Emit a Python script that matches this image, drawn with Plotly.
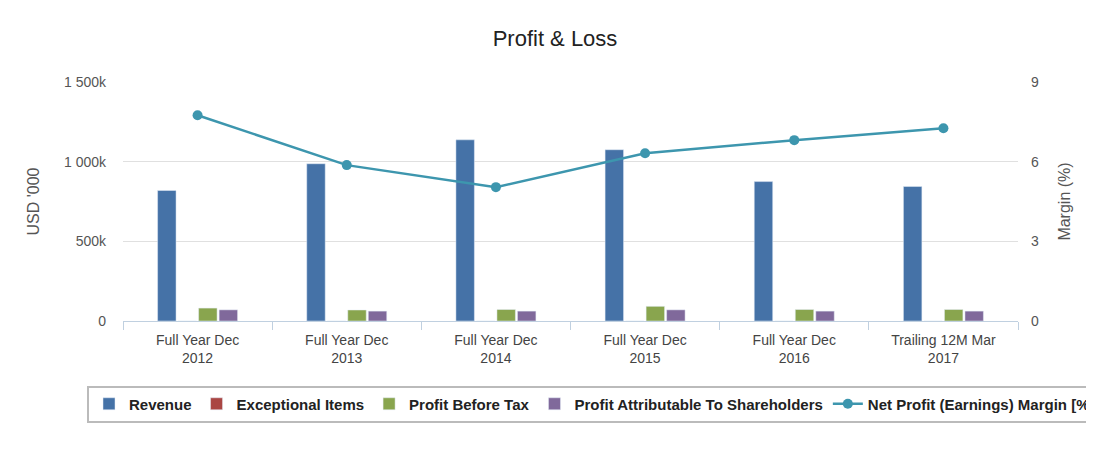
import plotly.graph_objects as go

periods = ["Full Year Dec<br>2012", "Full Year Dec<br>2013", "Full Year Dec<br>2014",
           "Full Year Dec<br>2015", "Full Year Dec<br>2016", "Trailing 12M Mar<br>2017"]
revenue = [819, 987, 1137, 1075, 875, 844]
exceptional = [0, 0, 0, 0, 0, 0]
profit_before_tax = [81, 69, 72, 92, 72, 72]
profit_attrib = [70, 62, 62, 70, 62, 62]
net_margin = [7.75, 5.87, 5.04, 6.32, 6.81, 7.26]

left_ticks = [0, 500, 1000, 1500]
left_labels = ["0", "500k", "1 000k", "1 500k"]

fig = go.Figure()
fig.add_bar(x=periods, y=revenue, name="Revenue", marker_color="#4572A7")
fig.add_bar(x=periods, y=exceptional, name="Exceptional Items", marker_color="#AA4643")
fig.add_bar(x=periods, y=profit_before_tax, name="Profit Before Tax", marker_color="#89A54E")
fig.add_bar(x=periods, y=profit_attrib, name="Profit Attributable To Shareholders", marker_color="#80699B")
fig.add_scatter(x=periods, y=net_margin, name="Net Profit (Earnings) Margin [%]", yaxis="y2",
                mode="lines+markers", line=dict(color="#3D96AE", width=2.5),
                marker=dict(size=10, color="#3D96AE"))

fig.update_layout(
    width=1094, height=450,
    paper_bgcolor="white", plot_bgcolor="white",
    font=dict(family="Liberation Sans, Arial", size=14, color="#333"),
    title=dict(text="Profit & Loss", x=0.5, y=0.95, xanchor="center", font=dict(size=22, color="#222")),
    margin=dict(l=115, r=84, t=74, b=137),
    barmode="group", bargap=0.45, bargroupgap=0.1,
    xaxis=dict(showline=True, linecolor="#C0D0E0", ticks="outside", tickcolor="#C0D0E0",
               tickson="boundaries", ticklen=8, ticklabelstandoff=6,
               tickfont=dict(size=14, color="#444")),
    yaxis=dict(range=[0, 1500], tickvals=left_ticks, ticktext=left_labels, gridcolor="#E0E0E0",
               title=dict(text="USD '000", font=dict(size=16, color="#555"), standoff=20),
               ticklabelstandoff=16, tickfont=dict(size=14, color="#555"), zeroline=False),
    yaxis2=dict(range=[0, 9], tickvals=[0, 3, 6, 9], overlaying="y", side="right", showgrid=False,
                title=dict(text="Margin (%)", font=dict(size=16, color="#555"), standoff=20),
                ticklabelstandoff=12, tickfont=dict(size=14, color="#555"), zeroline=False),
    legend=dict(orientation="h", x=-0.025, xanchor="left", y=-0.27, yanchor="top",
                bordercolor="#BBBBBB", borderwidth=2,
                font=dict(size=15, color="#222", weight="bold"),
                entrywidth=0, traceorder="normal", itemwidth=30),
)

fig.write_html("out.html")
